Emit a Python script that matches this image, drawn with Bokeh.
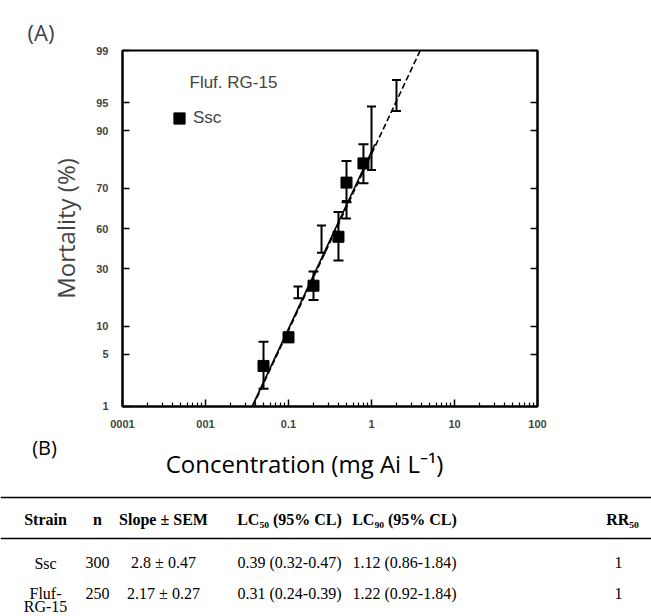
from statistics import NormalDist
from bokeh.plotting import figure
from bokeh.models import (FixedTicker, LinearAxis, Whisker, TeeHead, ColumnDataSource,
                          Label, Legend, LegendItem, Range1d, Span)
from bokeh.layouts import column
from bokeh.embed import file_html
from bokeh.resources import INLINE
from bokeh.core.properties import value

nd = NormalDist()


def probit(p):
    return nd.inv_cdf(p / 100.0)


# ---------------- data ----------------
# Ssc strain: concentration (mg Ai/L), mortality %, upper / lower error limits
ssc_conc = [0.05, 0.1, 0.2, 0.4, 0.5, 0.8]
ssc_mort = [3.6, 7.7, 22.7, 45.7, 72.6, 80.3]
ssc_upper = [6.9, 8.7, 28.7, 58.5, 81.2, 86.5]
ssc_lower = [1.8, 6.9, 17.5, 33.8, 63.5, 72.3]

# Fluf-RG-15 strain (error bars only)
rg_conc = [0.13, 0.25, 0.5, 1.0, 2.0]
rg_mort = [20.2, 44.5, 59.9, 88.2, 95.9]
rg_upper = [22.4, 51.6, 64.0, 94.5, 97.4]
rg_lower = [18.1, 37.6, 55.2, 77.8, 93.8]

# fitted probit lines (concentration, mortality %) at their ends
fit_solid_conc = [0.0366, 1.1]
fit_solid_mort = [1, 86.5]
fit_dashed_conc = [0.0372, 3.85]
fit_dashed_mort = [1, 99]

# axis ticks
x_tick_vals = [0.001, 0.01, 0.1, 1, 10, 100]
x_tick_labels = ["0001", "001", "0.1", "1", "10", "100"]
y_tick_pct = [1, 5, 10, 30, 50, 70, 90, 95, 99]
y_tick_labels = ["1", "5", "10", "30", "60", "70", "90", "95", "99"]

# table
table_header = ["Strain", "n", "Slope \u00b1 SEM", "LC\u2085\u2080 (95% CL)", "LC\u2089\u2080 (95% CL)", "RR\u2085\u2080"]
table_strain = ["Ssc", "Fluf-\nRG-15"]
table_n = ["300", "250"]
table_slope = ["2.8 \u00b1 0.47", "2.17 \u00b1 0.27"]
table_lc50 = ["0.39 (0.32-0.47)", "0.31 (0.24-0.39)"]
table_lc90 = ["1.12 (0.86-1.84)", "1.22 (0.92-1.84)"]
table_rr50 = ["1", "1"]

# ---------------- chart ----------------
W = 651
H1 = 432
y0, y1 = probit(1) - 0.004, probit(99) + 0.004

p = figure(width=W, height=H1, x_axis_type="log", x_range=Range1d(0.001, 100),
           y_range=Range1d(y0, y1), output_backend="svg", toolbar_location=None,
           min_border_left=122, min_border_right=114, min_border_top=50, min_border_bottom=26)
p.frame_align = False
p.xgrid.visible = False
p.ygrid.visible = False
p.outline_line_color = "black"
p.outline_line_width = 2
p.background_fill_color = "white"
p.border_fill_color = "white"

p.title.text = "(A)"
p.title.align = "left"
p.title.offset = -95
p.title.text_font = "Open Sans"
p.title.text_font_style = "normal"
p.title.text_font_size = "22px"
p.title.standoff = 8

minor = [m * 10.0 ** e for e in range(-3, 2) for m in range(2, 10)]
xa = p.xaxis[0]
xa.ticker = FixedTicker(ticks=[float(v) for v in x_tick_vals], minor_ticks=minor)
xa.major_label_overrides = {float(v): s for v, s in zip(x_tick_vals, x_tick_labels)}
xa.major_tick_in = 7
xa.major_tick_out = 0
xa.minor_tick_in = 4
xa.minor_tick_out = 0
xa.axis_line_width = 2
xa.major_tick_line_width = 1.5
xa.minor_tick_line_width = 1.2
xa.major_label_standoff = 13
xa.major_label_text_font = "Liberation Sans"
xa.major_label_text_font_style = "bold"
xa.major_label_text_font_size = "11px"

y_ticks = [probit(v) for v in y_tick_pct]
ya = p.yaxis[0]
ya.ticker = FixedTicker(ticks=y_ticks, minor_ticks=[])
ya.major_label_overrides = {t: s for t, s in zip(y_ticks, y_tick_labels)}
ya.major_tick_in = 7
ya.major_tick_out = 0
ya.axis_line_width = 2
ya.major_tick_line_width = 1.5
ya.major_label_standoff = 14
ya.major_label_text_font = "Liberation Sans"
ya.major_label_text_font_style = "bold"
ya.major_label_text_font_size = "11px"
ya.axis_label = "Mortality (%)"
ya.axis_label_text_font = "Open Sans"
ya.axis_label_text_font_style = "normal"
ya.axis_label_text_font_size = "24px"
ya.axis_label_standoff = 11

ra = LinearAxis(ticker=FixedTicker(ticks=y_ticks, minor_ticks=[]))
ra.major_tick_in = 7
ra.major_tick_out = 0
ra.axis_line_width = 2
ra.major_tick_line_width = 1.5
ra.major_label_overrides = {t: "" for t in y_ticks}
p.add_layout(ra, "right")

# fitted lines
p.line(fit_solid_conc, [probit(v) for v in fit_solid_mort], line_color="black", line_width=1.6)
p.line(fit_dashed_conc, [probit(v) for v in fit_dashed_mort], line_color="black", line_width=1.6,
       line_dash="6 3")

# error bars
rg_src = ColumnDataSource(dict(x=rg_conc, upper=[probit(v) for v in rg_upper],
                               lower=[probit(v) for v in rg_lower]))
p.add_layout(Whisker(source=rg_src, base="x", upper="upper", lower="lower", dimension="height",
                     line_width=2, line_color="black",
                     upper_head=TeeHead(size=9, line_width=2, line_color="black"),
                     lower_head=TeeHead(size=9, line_width=2, line_color="black")))

ssc_src = ColumnDataSource(dict(x=ssc_conc, y=[probit(v) for v in ssc_mort],
                                upper=[probit(v) for v in ssc_upper],
                                lower=[probit(v) for v in ssc_lower]))
p.add_layout(Whisker(source=ssc_src, base="x", upper="upper", lower="lower", dimension="height",
                     line_width=2, line_color="black",
                     upper_head=TeeHead(size=10, line_width=2, line_color="black"),
                     lower_head=TeeHead(size=10, line_width=2, line_color="black")))
sq = p.scatter("x", "y", source=ssc_src, marker="square", size=11, fill_color="black",
               line_color="black")

legend = Legend(items=[LegendItem(label="Ssc", renderers=[sq])], location=(43, 274),
                glyph_width=28, glyph_height=28, label_standoff=-2, padding=0, margin=0,
                border_line_color=None, background_fill_alpha=0,
                label_text_font="Liberation Sans", label_text_font_size="17px")
p.add_layout(legend)

p.add_layout(Label(x=67, y=324, x_units="screen", y_units="screen", text="Fluf. RG-15",
                   text_font="Liberation Sans", text_font_size="17px",
                   text_align="left", text_baseline="middle"))

# ---------------- lower panel: (B), x title, table ----------------
H2 = 616 - H1
t = figure(width=W, height=H2, x_range=Range1d(0, W), y_range=Range1d(H2, 0),
           x_axis_type=None, y_axis_type=None, output_backend="svg", toolbar_location=None,
           min_border=0, min_border_left=0, min_border_right=0, min_border_top=0,
           min_border_bottom=0, outline_line_color=None)
t.frame_align = False

t.text(x=[44], y=[1], text=["(B)"], text_font=value("Open Sans"), text_font_size="20px",
       text_align="center", text_baseline="top", text_color="black")
t.text(x=[304], y=[463 - H1], text=["Concentration (mg Ai L\u207b\u00b9)"],
       text_font=value("Open Sans"), text_font_size="24px", text_align="center",
       text_baseline="middle", text_color="black")

col_x = [45, 97, 163, 289, 404, 622]
row_x = [45, 97, 163, 289, 404, 618]
row_y = [562, 593]
serif = value("Liberation Serif")
t.add_layout(Span(location=497 - H1, dimension="width", line_color="black", line_width=1.3))
t.add_layout(Span(location=538 - H1, dimension="width", line_color="black", line_width=1.3))
t.text(x=col_x, y=[519 - H1] * 6, text=table_header, text_font=serif,
       text_font_style="bold", text_font_size="16px", text_align="center",
       text_baseline="middle", text_color="black")
ry = [v - H1 for v in row_y]
for xc, cells in zip(row_x[1:], [table_n, table_slope, table_lc50, table_lc90, table_rr50]):
    t.text(x=[xc, xc], y=ry, text=cells, text_font=serif, text_font_size="16px",
           text_align="center", text_baseline="middle", text_color="black")
t.text(x=[row_x[0], row_x[0]], y=[ry[0] - 8, ry[1] - 9], text=table_strain, text_font=serif,
       text_font_size="16px", text_align="center", text_baseline="top", text_color="black",
       text_line_height=0.8)

layout = column(p, t)
open("out.html", "w").write(file_html(layout, INLINE))
